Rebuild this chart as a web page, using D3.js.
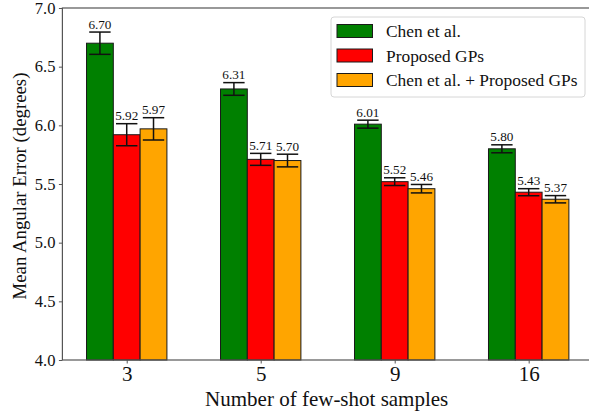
<!DOCTYPE html>
<html>
<head>
<meta charset="utf-8">
<script src="https://cdn.jsdelivr.net/npm/d3@7"></script>
<style>
  html, body { margin: 0; padding: 0; background: #fff; }
  svg { display: block; font-family: "Liberation Serif", "Times New Roman", serif; }
</style>
</head>
<body>
<svg id="chart" width="589" height="412"></svg>
<script>
'use strict';

var samples = ['3', '5', '9', '16'];
var seriesNames = ['Chen et al.', 'Proposed GPs', 'Chen et al. + Proposed GPs'];
var seriesColors = ['#008000', '#ff0000', '#ffa500'];
var chenMean = [6.70, 6.31, 6.01, 5.80];
var gpMean = [5.92, 5.71, 5.52, 5.43];
var bothMean = [5.97, 5.70, 5.46, 5.37];
var chenErr = [0.095, 0.054, 0.034, 0.034];
var gpErr = [0.094, 0.051, 0.033, 0.030];
var bothErr = [0.095, 0.054, 0.036, 0.031];
var yTicks = [4.0, 4.5, 5.0, 5.5, 6.0, 6.5, 7.0];

var series = [
    {name: seriesNames[0], color: seriesColors[0], mean: chenMean, err: chenErr},
    {name: seriesNames[1], color: seriesColors[1], mean: gpMean, err: gpErr},
    {name: seriesNames[2], color: seriesColors[2], mean: bothMean, err: bothErr}
];

var svg = d3.select('#chart');
var barW = 0.2;
var spine = '#555';
var ink = '#111';

var x = d3.scaleLinear().domain([-0.48, 3.48]).range([62.4, 593]);
var y = d3.scaleLinear().domain([4, 7]).range([360, 8]);
var bw = x(barW) - x(0);

// bars, error bars and value labels
series.forEach(function(s, si) {
    var off = (si - 1) * barW;
    var g = svg.append('g').attr('class', 'series');

    g.selectAll('rect')
        .data(s.mean)
      .enter().append('rect')
        .attr('x', function(d, i) { return x(i + off) - bw / 2; })
        .attr('y', function(d) { return y(d); })
        .attr('width', bw)
        .attr('height', function(d) { return y(4) - y(d); })
        .attr('fill', s.color)
        .attr('stroke', '#1a1a1a')
        .attr('stroke-width', 1);

    var eb = g.selectAll('g.err')
        .data(s.mean)
      .enter().append('g')
        .attr('class', 'err')
        .attr('stroke', '#111')
        .attr('stroke-width', 1.5);

    eb.append('line')
        .attr('x1', function(d, i) { return x(i + off); })
        .attr('x2', function(d, i) { return x(i + off); })
        .attr('y1', function(d, i) { return y(d - s.err[i]); })
        .attr('y2', function(d, i) { return y(d + s.err[i]); });

    [-1, 1].forEach(function(sign) {
        eb.append('line')
            .attr('x1', function(d, i) { return x(i + off) - 10.7; })
            .attr('x2', function(d, i) { return x(i + off) + 10.7; })
            .attr('y1', function(d, i) { return y(d + sign * s.err[i]); })
            .attr('y2', function(d, i) { return y(d + sign * s.err[i]); });
    });

    g.selectAll('text')
        .data(s.mean)
      .enter().append('text')
        .attr('x', function(d, i) { return x(i + off); })
        .attr('y', function(d, i) { return y(d + s.err[i]) - 3.5; })
        .attr('text-anchor', 'middle')
        .attr('font-size', '13.2px')
        .attr('fill', ink)
        .text(function(d) { return d.toFixed(2); });
});

// axes
var yAxis = d3.axisLeft(y).tickValues(yTicks).tickSize(3.5).tickPadding(3.5)
    .tickFormat(d3.format('.1f'));
var xAxis = d3.axisBottom(x).tickValues([0, 1, 2, 3]).tickSize(3.5).tickPadding(3)
    .tickFormat(function(d) { return samples[d]; });

var ya = svg.append('g').attr('transform', 'translate(62.4,0)').call(yAxis);
var xa = svg.append('g').attr('transform', 'translate(0,360)').call(xAxis);

[ya, xa].forEach(function(a) {
    a.select('.domain').remove();
    a.selectAll('.tick line').attr('stroke', spine).attr('stroke-width', 1);
    a.selectAll('.tick text').attr('fill', ink).attr('font-family', 'Liberation Serif');
});
ya.selectAll('.tick text').attr('font-size', '16.5px');
xa.selectAll('.tick text').attr('font-size', '21px');

// spines
svg.append('rect')
    .attr('x', 62.4).attr('y', 8)
    .attr('width', 593 - 62.4).attr('height', 352)
    .attr('fill', 'none')
    .attr('stroke', spine)
    .attr('stroke-width', 1.2);

// axis labels
svg.append('text')
    .attr('transform', 'translate(26,186) rotate(-90)')
    .attr('text-anchor', 'middle')
    .attr('font-size', '18.8px')
    .attr('fill', ink)
    .text('Mean Angular Error (degrees)');

svg.append('text')
    .attr('x', x(1.5) - 1)
    .attr('y', 406)
    .attr('text-anchor', 'middle')
    .attr('font-size', '21px')
    .attr('fill', ink)
    .text('Number of few-shot samples');

// legend
var leg = svg.append('g').attr('transform', 'translate(331,17)');
leg.append('rect')
    .attr('width', 254).attr('height', 80)
    .attr('rx', 3).attr('ry', 3)
    .attr('fill', '#fff').attr('fill-opacity', 0.8)
    .attr('stroke', '#d6d6d6').attr('stroke-width', 1);

var items = leg.selectAll('g.item')
    .data(series)
  .enter().append('g')
    .attr('class', 'item')
    .attr('transform', function(d, i) { return 'translate(0,' + (14 + i * 24.5) + ')'; });

items.append('rect')
    .attr('x', 6).attr('y', -6.5)
    .attr('width', 35.5).attr('height', 13)
    .attr('fill', function(d) { return d.color; })
    .attr('stroke', '#1a1a1a').attr('stroke-width', 1);

items.append('text')
    .attr('x', 55)
    .attr('y', 6)
    .attr('font-size', '17.4px')
    .attr('fill', ink)
    .text(function(d) { return d.name; });
</script>
</body>
</html>
